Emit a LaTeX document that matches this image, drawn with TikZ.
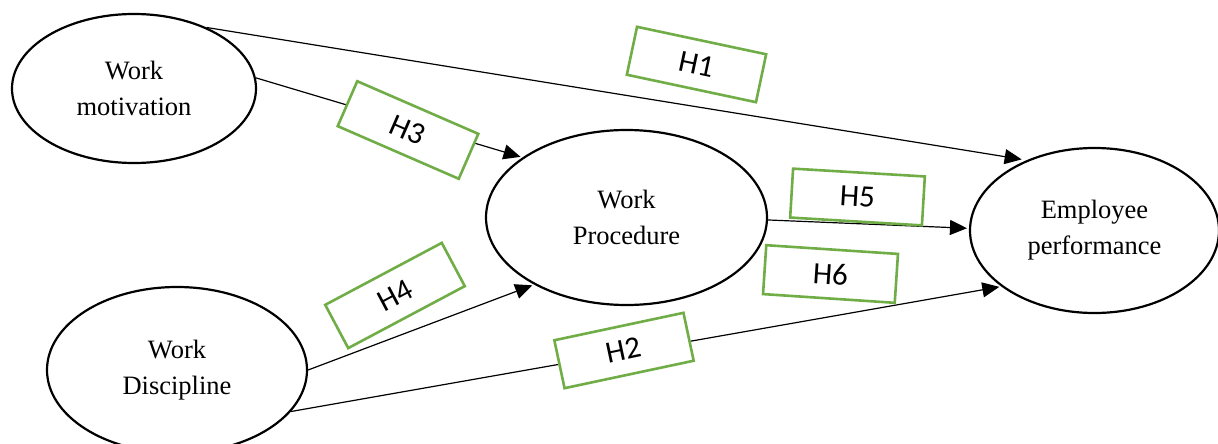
\documentclass[tikz,border=0pt]{standalone}
\usepackage{fontspec}
\setmainfont{Liberation Serif}
\newfontfamily\hypfont{Carlito}
\usetikzlibrary{shapes.geometric, arrows.meta}

\definecolor{hgreen}{RGB}{112,173,71}

\begin{document}
\begin{tikzpicture}[x=1pt, y=-1pt,
    construct/.style={ellipse, draw, line width=2.2pt, inner sep=0pt, align=center,
        font=\fontsize{26.5}{36}\selectfont},
    link/.style={line width=1.2pt, -{Triangle[length=17pt, width=15pt]}, shorten >=2pt},
    hyp/.style={draw=hgreen, line width=2.6pt, fill=white, inner sep=0pt,
        minimum width=132pt, minimum height=49pt, font=\hypfont\fontsize{31}{36}\selectfont}]

    % === Canvas ===
    \useasboundingbox (0,0) rectangle (1218,444);

    % === Constructs ===
    \node[construct, minimum width=244pt, minimum height=149pt] (motiv) at (134,88.5) {Work\\motivation};
    \node[construct, minimum width=260pt, minimum height=166pt] (discip) at (177,370) {Work\\Discipline};
    \node[construct, minimum width=281pt, minimum height=175pt] (proc) at (626.5,217.5) {Work\\Procedure};
    \node[construct, minimum width=249pt, minimum height=165pt] (perf) at (1094.5,230.5) {Employee\\performance};

    % === Paths ===
    \draw[link, shorten >=5pt] (motiv.40) -- (perf.134); % H1
    \draw[link] (discip.340) -- (perf.211);              % H2
    \draw[link] (motiv.5) -- (proc.150);                 % H3
    \draw[link] (discip.0) -- (proc.216);                % H4
    \draw[link] (proc.359) -- (perf.179);                % H5

    % === Hypothesis labels ===
    \node[hyp, rotate=-12] (h1) at (696.5,64.5) {H1};
    \node[hyp, rotate=12] (h2) at (624,350.5) {H2};
    \node[hyp, rotate=-23.5] (h3) at (408,130) {H3};
    \node[hyp, rotate=28] (h4) at (395,295.5) {H4};
    \node[hyp, rotate=-3.4] (h5) at (857.5,197) {H5};
    \node[hyp, rotate=-3.8] (h6) at (830.5,274) {H6};

\end{tikzpicture}
\end{document}
